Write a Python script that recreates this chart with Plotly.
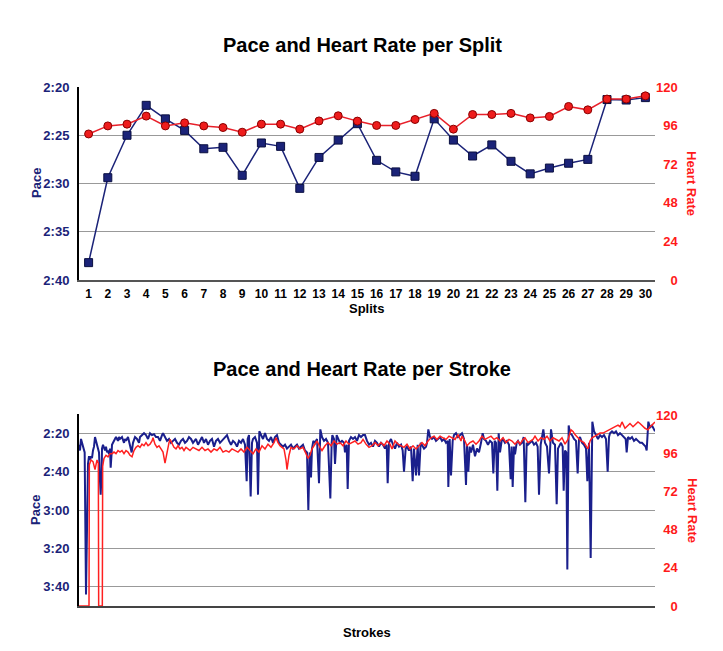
import plotly.graph_objects as go

# ---------------- Data: per split ----------------
splits = list(range(1, 31))
split_pace_sec = [158.2, 149.4, 145.0, 141.9, 143.3, 144.5, 146.4, 146.25, 149.15, 145.8,
                  146.15, 150.5, 147.3, 145.5, 143.8, 147.6, 148.8, 149.25, 143.3, 145.5,
                  147.15, 146.0, 147.7, 149.0, 148.4, 147.9, 147.5, 141.3, 141.35, 141.1]
split_hr = [90.8, 95.8, 96.9, 101.9, 95.8, 97.7, 95.8, 94.8, 91.9, 96.9,
            96.9, 93.8, 98.9, 102.1, 98.8, 96.1, 96.1, 99.8, 103.6, 93.8,
            102.9, 102.9, 103.6, 100.8, 101.7, 107.9, 105.8, 112.5, 112.5, 114.5]

top_pace_ticks = [140, 145, 150, 155, 160]
hr_ticks = [0, 24, 48, 72, 96, 120]
bottom_pace_ticks = [140, 160, 180, 200, 220]

# ---------------- Data: per stroke ----------------
stroke_pace_x = [0, 3, 6, 9, 12, 17, 21, 25, 27, 30, 33, 36, 39, 42, 45, 48, 51, 54, 57, 60,
                 63, 65, 68, 69, 72, 75, 78, 81, 84, 87, 90, 93, 95, 98, 99, 102, 105, 108, 111, 114,
                 117, 120, 123, 129, 135, 138, 141, 147, 153, 158, 162, 168, 174, 180, 183, 189, 195, 201, 207, 213,
                 219, 225, 231, 237, 243, 249, 252, 258, 264, 270, 276, 282, 288, 294, 300, 306, 312, 318, 324, 330,
                 336, 342, 348, 351, 357, 363, 369, 375, 381, 387, 393, 399, 405, 411, 417, 423, 429, 435, 441, 444,
                 450, 456, 462, 468, 474, 480, 486, 492, 498, 503, 506, 510, 515, 519, 522, 528, 534, 537, 541, 546,
                 552, 558, 564, 570, 576, 582, 588, 594, 600, 606, 612, 618, 624, 630, 636, 642, 648, 654, 660, 666,
                 672, 678, 684, 688, 692, 696, 699, 703, 708, 714, 720, 724, 729, 735, 741, 747, 754, 758, 760, 765,
                 768, 773, 777, 783, 789, 795, 798, 803, 806, 810, 816, 822, 828, 834, 840, 846, 852, 858, 864, 870,
                 876, 882, 888, 894, 900, 906, 912, 918, 923, 926, 930, 936, 942, 948, 954, 960, 966, 971, 975, 980,
                 984, 990, 996, 1001, 1005, 1011, 1016, 1020, 1025, 1029, 1035, 1041, 1044, 1048, 1053, 1059, 1065, 1071, 1077, 1083,
                 1089, 1095, 1101, 1106, 1108, 1112, 1116, 1121, 1125, 1131, 1137, 1143, 1149, 1155, 1161, 1164, 1168, 1172, 1176, 1182,
                 1188, 1194, 1200, 1206, 1211, 1215, 1221, 1227, 1233, 1239, 1243, 1247, 1251, 1255, 1259, 1263, 1268, 1272, 1278, 1284,
                 1290, 1295, 1298, 1301, 1305, 1308, 1313, 1317, 1323, 1329, 1334, 1339, 1343, 1347, 1353, 1359, 1365, 1371, 1376, 1380,
                 1385, 1388, 1393, 1398, 1404, 1410, 1413, 1416, 1422, 1428, 1433, 1437, 1440, 1446, 1451, 1454, 1458, 1462, 1465, 1469,
                 1473, 1479, 1485, 1491, 1496, 1500, 1503, 1509, 1515, 1521, 1525, 1528, 1530, 1535, 1540, 1545, 1551, 1557, 1563, 1569,
                 1575, 1581, 1586, 1590, 1593, 1599, 1605, 1611, 1617, 1623, 1629, 1635, 1640, 1643, 1647, 1653, 1659, 1665, 1671, 1677,
                 1683, 1689, 1695, 1700, 1703, 1708, 1713, 1719, 1725, 1728]
stroke_pace_sec = [146, 149, 143, 145, 148, 150, 224, 158, 156, 152, 154, 152, 153, 149, 147, 142, 144, 146, 147, 150,
                   165, 172, 160, 148, 146, 148, 149, 147, 150, 149, 151, 148, 158, 150, 146, 145, 144, 143, 142, 143,
                   144, 142, 143, 142, 145, 143, 144, 142, 147, 150, 145, 142, 143, 145, 142, 141, 140, 141, 143, 140,
                   141, 140.5, 142, 142, 144, 141, 140, 142, 144, 143, 145, 144, 143, 145, 146, 144, 143, 145, 144, 142,
                   143, 145, 144, 143, 146, 144, 142, 145, 143, 146, 144, 143, 147, 144, 143, 145, 144, 143, 142, 141,
                   144, 146, 144, 145, 147, 144, 145, 143, 146, 165, 143, 141, 173, 145, 143, 142, 145, 172, 139, 141,
                   143, 140, 143, 144, 142, 145, 142, 141, 145, 146, 147, 146, 148, 147, 146, 148, 147, 146, 148, 147,
                   146, 149, 150, 180, 150, 163, 148, 144, 145, 143, 166, 138, 142, 144, 143, 145, 174, 145, 141, 143,
                   156, 141, 143, 145, 144, 145, 150, 146, 169, 144, 142, 143, 142, 144, 141, 142, 141, 141, 144, 146,
                   145, 147, 144, 145, 147, 145, 146, 148, 146, 166, 145, 143, 146, 148, 145, 147, 146, 149, 160, 148,
                   147, 149, 147, 165, 148, 162, 146, 162, 145, 146, 148, 147, 145, 138, 142, 143, 142, 144, 143, 142,
                   144, 143, 145, 144, 168, 143, 162, 144, 141, 140, 142, 141, 140, 143, 167, 146, 160, 147, 150, 146,
                   152, 148, 150, 145, 140, 143, 144, 146, 144, 145, 161, 144, 145, 170, 140, 150, 144, 143, 145, 144,
                   146, 164, 147, 168, 147, 151, 145, 144, 146, 145, 142, 176, 145, 146, 145, 144, 146, 145, 147, 172,
                   146, 143, 138, 145, 147, 161, 143, 138, 145, 146, 177, 148, 147, 145, 147, 170, 149, 150, 211, 136,
                   140, 141, 143, 144, 161, 143, 142, 145, 146, 148, 165, 147, 145, 205, 134, 139, 141, 143, 141, 142,
                   141, 143, 160, 142, 140, 139, 140, 139, 141, 140, 141, 142, 143, 150, 142, 143, 142, 144, 143, 144,
                   145, 145, 146, 147, 149, 134, 137, 136, 138, 139]

stroke_hr_x = [0, 30, 31, 36, 42, 48, 54, 58, 59, 70, 71, 75, 81, 87, 93, 99, 105, 111, 117, 123,
               129, 135, 141, 147, 153, 159, 165, 171, 177, 183, 189, 195, 201, 207, 213, 219, 222, 228, 234, 240,
               246, 252, 258, 264, 270, 273, 279, 285, 291, 297, 303, 309, 315, 321, 327, 333, 342, 351, 360, 369,
               378, 387, 396, 405, 414, 423, 432, 441, 450, 459, 468, 477, 486, 495, 504, 513, 522, 531, 540, 549,
               558, 567, 576, 585, 591, 597, 603, 609, 615, 621, 624, 630, 636, 645, 654, 663, 672, 681, 687, 693,
               699, 705, 714, 723, 729, 738, 747, 756, 765, 774, 783, 792, 801, 810, 819, 828, 837, 846, 852, 861,
               870, 879, 888, 897, 906, 915, 924, 933, 939, 948, 957, 966, 975, 984, 993, 1002, 1011, 1020, 1029, 1038,
               1047, 1056, 1065, 1074, 1083, 1092, 1101, 1110, 1119, 1128, 1137, 1146, 1149, 1158, 1164, 1173, 1182, 1191, 1200, 1209,
               1218, 1227, 1236, 1245, 1254, 1263, 1272, 1281, 1290, 1299, 1308, 1317, 1323, 1332, 1338, 1347, 1353, 1362, 1368, 1377,
               1386, 1395, 1404, 1413, 1422, 1431, 1440, 1449, 1458, 1467, 1476, 1482, 1488, 1497, 1506, 1515, 1521, 1527, 1533, 1539,
               1548, 1557, 1563, 1572, 1581, 1590, 1599, 1608, 1617, 1623, 1629, 1638, 1647, 1653, 1662, 1668, 1677, 1683, 1692, 1698,
               1707, 1713, 1719, 1728]
stroke_hr = [0, 0, 89, 92, 91, 86, 92, 90, 0, 0, 88, 93, 95, 94, 96, 96, 97, 96, 98, 97,
             98, 96, 98, 97, 95, 94, 98, 100, 101, 100, 102, 101, 103, 101, 102, 104, 106, 102, 100, 101,
             99, 97, 90, 98, 103, 105, 102, 100, 99, 101, 99, 100, 98, 100, 99, 98, 100, 99, 98, 100,
             98, 99, 97, 99, 98, 100, 97, 98, 97, 99, 98, 97, 99, 97, 100, 98, 96, 99, 97, 101,
             99, 102, 100, 103, 106, 103, 101, 100, 99, 92, 86, 95, 100, 99, 101, 99, 100, 96, 93, 95,
             99, 101, 104, 100, 98, 101, 103, 101, 104, 102, 103, 101, 104, 102, 103, 104, 102, 103, 105, 102,
             100, 101, 103, 101, 103, 101, 104, 102, 99, 104, 102, 101, 100, 102, 99, 101, 99, 101, 103, 101,
             104, 106, 107, 105, 107, 106, 105, 107, 106, 105, 108, 104, 107, 104, 101, 103, 104, 102, 104, 107,
             105, 106, 107, 105, 106, 104, 106, 103, 105, 104, 102, 104, 102, 105, 106, 103, 104, 105, 107, 104,
             106, 105, 107, 104, 106, 105, 104, 106, 102, 105, 111, 110, 108, 106, 104, 103, 101, 99, 104, 106,
             107, 108, 109, 109, 110, 111, 112, 113, 114, 113, 116, 112, 114, 115, 113, 114, 116, 115, 113, 112,
             111, 113, 114, 116]


def fmt_pace(s):
    return f"{int(s) // 60}:{int(s) % 60:02d}"


def fmt_hr(v):
    # pad with figure spaces so the right-axis labels line up on the right
    t = str(v)
    return "\u2007" * (3 - len(t)) + t


NAVY = "#1b2378"
RED = "#ff1a1a"
FONT = "Liberation Sans, Arial, sans-serif"
OFF = 8  # page body margin in the browser
W, H = 723 - OFF, 651 - OFF
L, R = 79, 655


def px(x):
    return (x - OFF) / W


def py(y):
    return 1 - (y - OFF) / H


fig = go.Figure()

# Top chart
fig.add_trace(go.Scatter(x=splits, y=split_pace_sec, mode="lines+markers", xaxis="x", yaxis="y",
                         line=dict(color=NAVY, width=1.5),
                         marker=dict(symbol="square", size=8, color=NAVY, line=dict(color="#0a0f40", width=1)),
                         showlegend=False))
fig.add_trace(go.Scatter(x=splits, y=split_hr, mode="lines+markers", xaxis="x", yaxis="y2",
                         line=dict(color="#e8202a", width=1.5),
                         marker=dict(symbol="circle", size=8, color="#ee1c1c", line=dict(color="#8a0000", width=1)),
                         showlegend=False))

# Bottom chart
fig.add_trace(go.Scatter(x=stroke_pace_x, y=stroke_pace_sec, mode="lines", xaxis="x2", yaxis="y3",
                         line=dict(color="#1a1f8c", width=2), showlegend=False))
fig.add_trace(go.Scatter(x=stroke_hr_x, y=stroke_hr, mode="lines", xaxis="x2", yaxis="y4",
                         line=dict(color="#ff2020", width=1.5), showlegend=False))

xd = [px(L), px(R)]
top_dom = [py(280), py(87)]
bot_dom = [py(606), py(414)]

tick_navy = dict(family=FONT, size=13, color=NAVY, weight="bold")
tick_red = dict(family=FONT, size=13, color=RED, weight="bold")

fig.update_layout(
    width=W, height=H,
    margin=dict(l=0, r=0, t=0, b=0, autoexpand=False),
    paper_bgcolor="white", plot_bgcolor="white",
    xaxis=dict(domain=xd, anchor="y", range=[0.5, 30.5], tickmode="array", tickvals=splits,
               ticktext=[str(s) for s in splits], showgrid=False, zeroline=False,
               showline=True, linecolor="#555", linewidth=2, ticks="", ticklabelstandoff=2,
               tickfont=dict(family=FONT, size=12, color="black", weight="bold")),
    yaxis=dict(domain=top_dom, anchor="x", range=[160, 140], tickmode="array",
               tickvals=top_pace_ticks, ticktext=[fmt_pace(v) for v in top_pace_ticks],
               showgrid=True, gridcolor="#999", gridwidth=1, zeroline=False,
               showline=True, linecolor="black", linewidth=2, ticks="", ticklabelstandoff=5,
               tickfont=tick_navy),
    yaxis2=dict(domain=top_dom, anchor="x", overlaying="y", side="right", range=[0, 120],
                tickmode="array", tickvals=hr_ticks, ticktext=[fmt_hr(v) for v in hr_ticks],
                showgrid=False, zeroline=False,
                showline=False, ticks="", ticklabelstandoff=0, tickfont=tick_red),
    xaxis2=dict(domain=xd, anchor="y3", range=[0, 1728], showticklabels=False, showgrid=False,
                zeroline=False, showline=True, linecolor="#444", linewidth=2, ticks=""),
    yaxis3=dict(domain=bot_dom, anchor="x2", range=[230, 130], tickmode="array",
                tickvals=bottom_pace_ticks, ticktext=[fmt_pace(v) for v in bottom_pace_ticks],
                showgrid=True, gridcolor="#999", gridwidth=1, zeroline=False,
                showline=True, linecolor="black", linewidth=2, ticks="", ticklabelstandoff=5,
                tickfont=tick_navy),
    yaxis4=dict(domain=bot_dom, anchor="x2", overlaying="y3", side="right", range=[0, 121],
                tickmode="array", tickvals=hr_ticks, ticktext=[fmt_hr(v) for v in hr_ticks],
                showgrid=False, zeroline=False,
                showline=False, ticks="", ticklabelstandoff=0, tickfont=tick_red),
)

ann = []


def add_text(text, x, y, size, color, angle=0):
    ann.append(dict(text=text, x=px(x), y=py(y), xref="paper", yref="paper", showarrow=False,
                    textangle=angle, xanchor="center", yanchor="middle",
                    font=dict(family=FONT, size=size, color=color, weight="bold")))


add_text("Pace and Heart Rate per Split", 362, 45, 20, "black")
add_text("Pace and Heart Rate per Stroke", 362, 369, 20, "black")
add_text("Splits", 366, 308, 13, "black")
add_text("Strokes", 367, 632, 13, "black")
add_text("Pace", 36, 183, 13, NAVY, -90)
add_text("Pace", 36, 510, 13, NAVY, -90)
add_text("Heart Rate", 692, 183, 13, RED, 90)
add_text("Heart Rate", 692, 510, 13, RED, 90)
fig.update_layout(annotations=ann)

fig.write_html("out.html")
